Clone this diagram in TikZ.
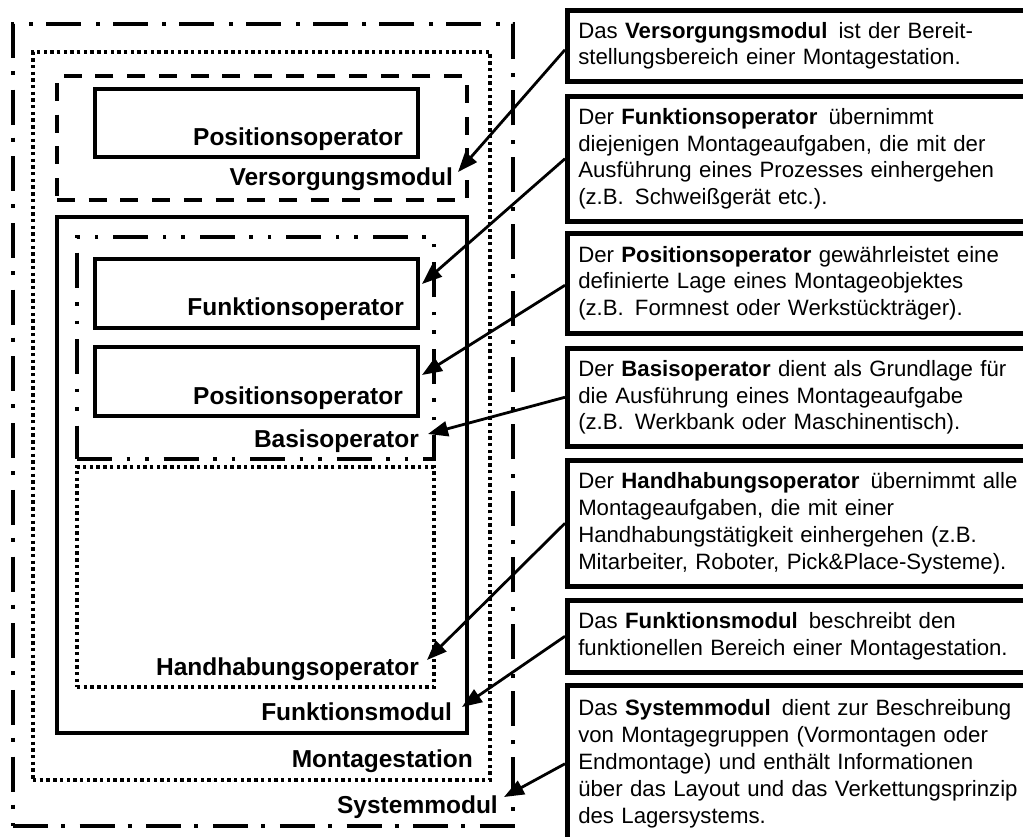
\documentclass[tikz,border=0pt]{standalone}
\usepackage{fontspec}
\setmainfont{Liberation Sans}
\usetikzlibrary{arrows.meta}
\begin{document}
\begin{tikzpicture}[x=1pt,y=-1pt,
  frame/.style={draw, line width=4.3pt, rectangle, inner sep=0pt, outer sep=0pt, anchor=north west},
  sysframe/.style={frame, dash pattern=on 35pt off 13pt on 4pt off 14.7pt},
  dotframe/.style={frame, line width=3.6pt, dash pattern=on 3.4pt off 3.3pt},
  supplyframe/.style={frame, dash pattern=on 18pt off 13.7pt},
  baseframe/.style={frame, dash pattern=on 35pt off 14.7pt on 3.7pt off 14.7pt on 3.7pt off 14.7pt},
  lbl/.style={font=\bfseries\fontsize{24.5}{29}\selectfont, inner sep=0pt, anchor=base east},
  descbox/.style={draw, line width=4.5pt, anchor=north west, inner xsep=11pt, inner ysep=0pt,
    text width=520pt, align=left, font=\fontsize{22.2}{26.8}\selectfont},
  pointer/.style={line width=2.8pt, -{Triangle[length=20pt,width=15pt]}}
]
\useasboundingbox (0,0) rectangle (1023,836);
\clip (0,0) rectangle (1023,836);

% nested frames of the station
\node[sysframe, minimum width=500pt, minimum height=802pt] (sys) at (13,24) {};
\node[dotframe, minimum width=457pt, minimum height=728pt] (station) at (33,52) {};
\node[supplyframe, minimum width=410pt, minimum height=124pt] (supply) at (57,76) {};
\node[frame, minimum width=323pt, minimum height=68pt] (pos1) at (95,89) {};
\node[frame, minimum width=410pt, minimum height=516pt] (func) at (57,217) {};
\node[baseframe, minimum width=357pt, minimum height=222pt] (base) at (77,237) {};
\node[frame, minimum width=323pt, minimum height=69pt] (funcop) at (95,259) {};
\node[frame, minimum width=323pt, minimum height=69pt] (pos2) at (95,347) {};
\node[dotframe, minimum width=357pt, minimum height=220pt] (hand) at (77,467) {};

% frame labels
\node[lbl] (lpos1) at (403,145) {Positionsoperator};
\node[lbl] (lsupply) at (453,185) {Versorgungsmodul};
\node[lbl] (lfuncop) at (404,315) {Funktionsoperator};
\node[lbl] (lpos2) at (403,404) {Positionsoperator};
\node[lbl] (lbase) at (419,447) {Basisoperator};
\node[lbl] (lhand) at (419,675) {Handhabungsoperator};
\node[lbl] (lfunc) at (452,720) {Funktionsmodul};
\node[lbl] (lstation) at (473,767) {Montagestation};
\node[lbl] (lsys) at (498,813) {Systemmodul};

% descriptions
\node[descbox, minimum height=71pt] (d1) at (565,8)
  {Das \textbf{Versorgungsmodul}\, ist der Bereit-\\stellungsbereich einer Montagestation.};
\node[descbox, minimum height=125pt] (d2) at (565,94)
  {Der \textbf{Funktionsoperator}\, übernimmt\\diejenigen Montageaufgaben, die mit der\\Ausführung eines Prozesses einhergehen\\(z.B.\, Schweißgerät etc.).};
\node[descbox, minimum height=100pt] (d3) at (565,231)
  {Der \textbf{Positionsoperator} gewährleistet eine\\definierte Lage eines Montageobjektes\\(z.B.\, Formnest oder Werkstückträger).};
\node[descbox, minimum height=98pt] (d4) at (565,346)
  {Der \textbf{Basisoperator} dient als Grundlage für\\die Ausführung eines Montageaufgabe\\(z.B.\, Werkbank oder Maschinentisch).};
\node[descbox, minimum height=126pt] (d5) at (565,458)
  {Der \textbf{Handhabungsoperator}\, übernimmt alle\\Montageaufgaben, die mit einer\\Handhabungstätigkeit einhergehen (z.B.\\Mitarbeiter, Roboter, Pick\&Place-Systeme).};
\node[descbox, minimum height=72pt] (d6) at (565,598)
  {Das \textbf{Funktionsmodul}\, beschreibt den\\funktionellen Bereich einer Montagestation.};
\node[descbox, minimum height=157pt] (d7) at (565,683)
  {Das \textbf{Systemmodul}\, dient zur Beschreibung\\von Montagegruppen (Vormontagen oder\\Endmontage) und enthält Informationen\\über das Layout und das Verkettungsprinzip\\des Lagersystems.};

% arrow targets beside the labels
\coordinate (t1) at (458,172);
\coordinate (t2) at (422,284);
\coordinate (t3) at (422,375);
\coordinate (t4) at (428,434);
\coordinate (t5) at (427,660);
\coordinate (t6) at (462,707);
\coordinate (t7) at (504,797);

\draw[pointer] ([yshift=-4pt]d1.west) -- (t1);
\draw[pointer] (d2.west) -- (t2);
\draw[pointer] ([yshift=-2pt]d3.west) -- (t3);
\draw[pointer] (d4.west) -- (t4);
\draw[pointer] (d5.west) -- (t5);
\draw[pointer] (d6.west) -- (t6);
\draw[pointer] (d7.west) -- (t7);
\end{tikzpicture}
\end{document}
